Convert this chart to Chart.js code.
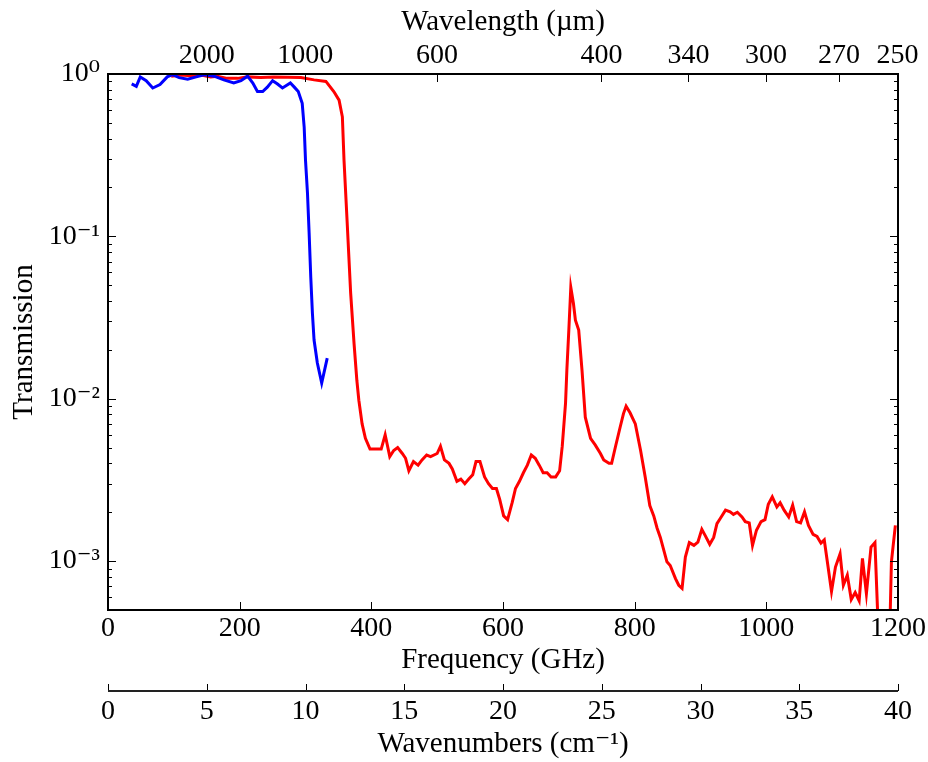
<!DOCTYPE html>
<html>
<head>
<meta charset="utf-8">
<script src="https://cdn.jsdelivr.net/npm/chart.js@4"></script>
<style>
  html, body { margin: 0; padding: 0; background: #fff; }
  #wrap { width: 928px; height: 762px; }
</style>
</head>
<body>
<div id="wrap"><canvas id="chart" width="928" height="762"></canvas></div>
<script>
// red filter (wide band) - frequency in GHz, transmission
const redFreq = [
  96, 111, 126, 141, 156, 166, 181, 197, 212, 232, 252, 273, 293, 313, 331, 343, 351, 356, 358.5, 363.6,
  368.6, 373.7, 378, 381, 386, 391, 398, 406, 415, 421, 428, 434, 440, 447, 452, 457, 464, 471, 477, 484,
  490, 500, 505, 511, 518, 523, 530, 536, 542, 548, 554, 559, 565, 572, 578, 584, 590, 595, 601, 607,
  614, 619, 625, 631, 637, 643, 649, 655, 661, 667, 673, 680, 686, 690, 695, 697, 700, 703, 707, 710,
  715, 720, 725, 733, 740, 748, 753, 761, 765, 771, 778, 783, 787, 793, 801, 809, 816, 823, 829, 834,
  839, 849, 854, 862, 867, 872, 877, 883, 890, 896, 902, 907, 914, 920, 925, 930, 938, 945, 950, 956,
  963, 968, 974, 979, 985, 992, 998, 1003, 1009, 1016, 1021, 1027, 1034, 1040, 1046, 1052, 1058, 1064, 1071, 1077,
  1083, 1088, 1093, 1099, 1105, 1112, 1117, 1123, 1129, 1135, 1141, 1146, 1152, 1159, 1165, 1171, 1187, 1190, 1196
];
const redTrans = [
  0.97, 0.985, 0.976, 0.985, 0.96, 0.97, 0.94, 0.94, 0.96, 0.95, 0.96, 0.955, 0.95, 0.92, 0.90, 0.78, 0.69, 0.545, 0.295, 0.115,
  0.0447, 0.022, 0.013, 0.0098, 0.0070, 0.0057, 0.0049, 0.0049, 0.0049, 0.0060, 0.0044, 0.0048, 0.0050, 0.0046, 0.0043, 0.0036, 0.0041, 0.0039, 0.0042, 0.0045,
  0.0044, 0.0046, 0.0051, 0.0042, 0.0040, 0.0037, 0.0031, 0.0032, 0.0030, 0.0032, 0.0034, 0.0041, 0.0041, 0.0033, 0.0030, 0.0028, 0.0028, 0.0024, 0.0019, 0.0018,
  0.0023, 0.0028, 0.0031, 0.0035, 0.0039, 0.0045, 0.0043, 0.0039, 0.0035, 0.0035, 0.0033, 0.0033, 0.0036, 0.0051, 0.0094, 0.015, 0.0265, 0.0485, 0.0386, 0.0305,
  0.0265, 0.015, 0.0077, 0.0057, 0.0052, 0.0046, 0.0042, 0.0040, 0.0040, 0.0051, 0.0067, 0.0081, 0.0090, 0.0082, 0.0070, 0.0048, 0.0033, 0.0022, 0.0019, 0.0016,
  0.0014, 0.00099, 0.00094, 0.00078, 0.00071, 0.00068, 0.00106, 0.0013, 0.00125, 0.00131, 0.00157, 0.00144, 0.00127, 0.0014, 0.0017, 0.00183, 0.00206, 0.00201, 0.00194, 0.0020,
  0.00187, 0.00175, 0.00172, 0.00125, 0.00155, 0.00175, 0.0018, 0.00224, 0.00249, 0.00216, 0.00229, 0.00206, 0.00187, 0.00221, 0.00175, 0.00172, 0.00201, 0.00166, 0.00146, 0.00142,
  0.00129, 0.00135, 0.00097, 0.00065, 0.00092, 0.00111, 0.00071, 0.00082, 0.00058, 0.00064, 0.00057, 0.00104, 0.00063, 0.00122, 0.0013, 0.0003, 0.0003, 0.00099, 0.00166
];

// blue filter (low-pass) 
const blueFreq = [
  36, 43, 49, 58, 68, 79, 90, 98, 108, 121, 134, 146, 161, 176, 191, 202, 212, 220, 227, 235,
  242, 250, 257, 265, 277, 283, 289, 295, 298, 300, 303, 305.5, 308, 310.5, 313, 318, 324.6, 333
];
const blueTrans = [
  0.87, 0.84, 0.96, 0.91, 0.82, 0.86, 0.96, 0.99, 0.95, 0.93, 0.96, 0.99, 0.97, 0.92, 0.88, 0.91, 0.97, 0.88, 0.78, 0.78,
  0.83, 0.91, 0.87, 0.82, 0.88, 0.83, 0.78, 0.66, 0.47, 0.295, 0.185, 0.105, 0.056, 0.0336, 0.023, 0.0166, 0.0125, 0.0178
];

// axes ticks
const freqTicks = [0, 200, 400, 600, 800, 1000, 1200];
const waveNumTicks = [0, 5, 10, 15, 20, 25, 30, 35, 40];
const waveLabels = ["2000", "1000", "600", "400", "340", "300", "270", "250"];
const waveMicrons = [2000, 1000, 600, 400, 340, 300, 270, 250];
const yTicks = [0.001, 0.01, 0.1, 1];
const yLabels = ["10\u207B\u00B3", "10\u207B\u00B2", "10\u207B\u00B9", "10\u2070"];

// c / lambda  -> GHz
const waveFreqs = waveMicrons.map(l => 299792.458 / l);

const FONT = "'Liberation Serif', 'DejaVu Serif', serif";
const tickFont = { family: FONT, size: 28 };
const titleFont = { family: FONT, size: 29 };

const toPoints = (xs, ys) => xs.map((x, i) => ({ x: x, y: ys[i] }));

// inward ticks + frame, matplotlib style
const framePlugin = {
  id: 'frame',
  afterDatasetsDraw(chart) {
    const ctx = chart.ctx;
    const a = chart.chartArea;
    const sx = chart.scales.x, sy = chart.scales.y, st = chart.scales.top, sw = chart.scales.wn;
    ctx.save();
    ctx.strokeStyle = '#000';
    ctx.lineWidth = 1;
    ctx.beginPath();
    freqTicks.forEach(v => {
      const px = Math.round(sx.getPixelForValue(v)) + 0.5;
      ctx.moveTo(px, a.bottom); ctx.lineTo(px, a.bottom - 8);
    });
    waveFreqs.forEach(v => {
      const px = Math.round(st.getPixelForValue(v)) + 0.5;
      ctx.moveTo(px, a.top); ctx.lineTo(px, a.top + 8);
    });
    for (let e = -4; e <= 0; e++) {
      for (let k = 1; k <= 9; k++) {
        const v = k * Math.pow(10, e);
        if (v < sy.min || v > sy.max) continue;
        const len = k === 1 ? 8 : 4;
        const py = Math.round(sy.getPixelForValue(v)) + 0.5;
        ctx.moveTo(a.left, py); ctx.lineTo(a.left + len, py);
        ctx.moveTo(a.right, py); ctx.lineTo(a.right - len, py);
      }
    }
    ctx.stroke();

    // wavenumber axis
    const ly = sw.top + 1;
    ctx.beginPath();
    waveNumTicks.forEach(v => {
      const px = Math.round(sw.getPixelForValue(v)) + 0.5;
      ctx.moveTo(px, ly); ctx.lineTo(px, ly - 7);
    });
    ctx.stroke();
    ctx.lineWidth = 2;
    ctx.strokeStyle = '#222';
    ctx.beginPath();
    ctx.moveTo(sw.left, ly); ctx.lineTo(sw.right, ly);
    ctx.stroke();

    ctx.strokeStyle = '#000';
    ctx.lineWidth = 2;
    ctx.strokeRect(a.left, a.top, a.right - a.left, a.bottom - a.top);
    ctx.restore();
  }
};

const noGrid = { display: false, drawTicks: false, tickLength: 0 };

new Chart(document.getElementById('chart').getContext('2d'), {
  type: 'line',
  data: {
    datasets: [
      {
        label: 'blue',
        data: toPoints(blueFreq, blueTrans),
        borderColor: '#0000ff',
        borderWidth: 3,
        pointRadius: 0,
        tension: 0,
        clip: 0
      },
      {
        label: 'red',
        data: toPoints(redFreq, redTrans),
        borderColor: '#ff0000',
        borderWidth: 3,
        pointRadius: 0,
        tension: 0,
        clip: 0
      }
    ]
  },
  options: {
    responsive: false,
    animation: false,
    devicePixelRatio: 1,
    layout: { padding: { left: 0, right: 29, top: 0, bottom: 0 } },
    plugins: { legend: { display: false }, tooltip: { enabled: false } },
    scales: {
      x: {
        type: 'linear', position: 'bottom', min: 0, max: 1200, weight: 0,
        afterBuildTicks: s => { s.ticks = freqTicks.map(v => ({ value: v })); },
        afterFit: s => { s.height = 80; },
        grid: noGrid, border: { display: false },
        ticks: { font: tickFont, color: '#000', padding: 2, maxRotation: 0, autoSkip: false,
                 callback: v => String(v) },
        title: { display: true, text: 'Frequency (GHz)', font: titleFont, color: '#000', padding: { top: 0, bottom: 12 } }
      },
      wn: {
        type: 'linear', position: 'bottom', min: 0, max: 40, weight: 1,
        afterBuildTicks: s => { s.ticks = waveNumTicks.map(v => ({ value: v })); },
        afterFit: s => { s.height = 72; },
        grid: noGrid, border: { display: false },
        ticks: { font: tickFont, color: '#000', padding: 5, maxRotation: 0, autoSkip: false,
                 callback: v => String(v) },
        title: { display: true, text: 'Wavenumbers (cm\u207B\u00B9)', font: titleFont, color: '#000', padding: { top: 0, bottom: 0 } }
      },
      top: {
        type: 'linear', position: 'top', min: 0, max: 1200,
        afterBuildTicks: s => { s.ticks = waveFreqs.map(v => ({ value: v })); },
        afterFit: s => { s.height = 74; },
        grid: noGrid, border: { display: false },
        ticks: { font: tickFont, color: '#000', padding: 2, maxRotation: 0, autoSkip: false,
                 callback: (v, i) => waveLabels[i] },
        title: { display: true, text: 'Wavelength (\u00B5m)', font: titleFont, color: '#000', padding: { top: 5, bottom: 0 } }
      },
      y: {
        type: 'logarithmic', position: 'left', min: 0.0005, max: 1,
        afterBuildTicks: s => { s.ticks = yTicks.map(v => ({ value: v })); },
        afterFit: s => { s.width = 108; },
        grid: noGrid, border: { display: false },
        ticks: { font: tickFont, color: '#000', padding: 8, autoSkip: false,
                 callback: (v, i) => yLabels[i] },
        title: { display: true, text: 'Transmission', font: titleFont, color: '#000', padding: { top: 7, bottom: 0 } }
      }
    }
  },
  plugins: [framePlugin]
});
</script>
</body>
</html>
